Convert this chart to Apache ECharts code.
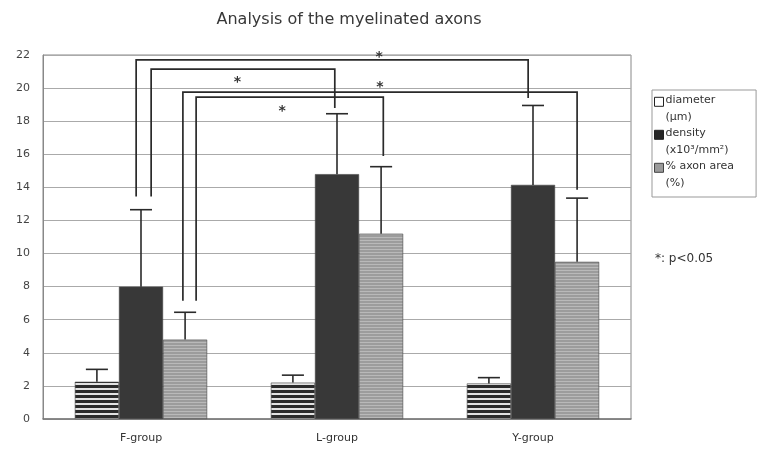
<!DOCTYPE html>
<html>
<head>
<meta charset="utf-8">
<script src="https://cdn.jsdelivr.net/npm/echarts@6/dist/echarts.min.js"></script>
<style>html,body{margin:0;padding:0;background:#fff;}#c{width:762px;height:449px;}</style>
</head>
<body>
<div id="c"></div>
<script>
// ---- data ----
const categories = ['F-group', 'L-group', 'Y-group'];
const seriesNames = ['diameter', 'density', '% axon area'];
const diameter = [2.25, 2.2, 2.15];
const density = [8.0, 14.8, 14.15];
const axonArea = [4.8, 11.2, 9.5];
const diameterSD = [0.75, 0.45, 0.35];
const densitySD = [4.65, 3.65, 4.8];
const axonAreaSD = [1.65, 4.05, 3.85];
const yTicks = [0, 2, 4, 6, 8, 10, 12, 14, 16, 18, 20, 22];
// significance brackets: [fromCategory, fromSeries, toCategory, toSeries]
const bracketFrom = [[0, 1], [0, 1], [0, 2], [0, 2]];
const bracketTo = [[2, 1], [1, 1], [2, 2], [1, 2]];
const bracketLevel = [21.7, 21.15, 19.76, 19.46];
const bracketLeftEnd = [13.45, 13.45, 7.15, 7.15];
const bracketRightEnd = [19.4, 18.8, 13.85, 15.9];
const starLevel = [22.05, 20.55, 20.2, 18.75];

// ---- styling ----
const BAR_FRAC = 0.225;
const bracketLeftShift = [-0.11, 0.23, -0.05, 0.25];
const bracketRightShift = [-0.11, -0.05, 0.0, 0.05];
const starPos = [0.62, 0.47, 0.5, 0.46];
const FONT = 'DejaVu Sans, Arial, sans-serif';

function makePattern(w, h, base, lineColor, lineRows) {
  const cv = document.createElement('canvas');
  cv.width = w; cv.height = h;
  const ctx = cv.getContext('2d');
  ctx.fillStyle = base; ctx.fillRect(0, 0, w, h);
  ctx.fillStyle = lineColor;
  lineRows.forEach(r => ctx.fillRect(0, r, w, 1));
  return { image: cv, repeat: 'repeat' };
}
const stripeDiameter = makePattern(4, 5, '#e2e2e2', '#2b2b2b', [0, 1, 2]);
const stripeArea = makePattern(4, 3, '#9c9c9c', '#b9b9b9', [0]);

const values = [diameter, density, axonArea];
const sds = [diameterSD, densitySD, axonAreaSD];
const fills = [stripeDiameter, '#383838', stripeArea];

function barX(api, cat, ser, shift) {
  const c = api.coord([cat, 0])[0];
  const bw = api.size([1, 0])[0] * BAR_FRAC;
  return c + (ser - 1) * bw + shift * bw;
}

const barSeries = seriesNames.map((name, k) => ({
  name: name,
  type: 'bar',
  data: values[k],
  barWidth: (BAR_FRAC * 100) + '%',
  barGap: '0%',
  itemStyle: { color: fills[k], borderColor: '#444', borderWidth: 0.6 },
  emphasis: { disabled: true },
  z: 2
}));

const errSeries = seriesNames.map((name, k) => ({
  type: 'custom',
  name: name + ' SD',
  data: values[k].map((v, i) => [i, v, v + sds[k][i]]),
  renderItem: function (params, api) {
    const cat = api.value(0);
    const x = barX(api, cat, k, 0);
    const y0 = api.coord([cat, api.value(1)])[1];
    const y1 = api.coord([cat, api.value(2)])[1];
    const capW = api.size([1, 0])[0] * BAR_FRAC * 0.5;
    const st = { stroke: '#2a2a2a', lineWidth: 1.6 };
    return {
      type: 'group',
      children: [
        { type: 'line', shape: { x1: x, y1: y0, x2: x, y2: y1 }, style: st },
        { type: 'line', shape: { x1: x - capW / 2, y1: y1, x2: x + capW / 2, y2: y1 }, style: st }
      ]
    };
  },
  z: 3,
  silent: true
}));

const bracketSeries = {
  type: 'custom',
  name: 'brackets',
  data: bracketFrom.map((f, i) => [f[0], bracketLevel[i], i]),
  renderItem: function (params, api) {
    const i = params.dataIndex;
    const f = bracketFrom[i], t = bracketTo[i];
    const lx = barX(api, f[0], f[1], bracketLeftShift[i]);
    const rx = barX(api, t[0], t[1], bracketRightShift[i]);
    const yl = api.coord([0, bracketLevel[i]])[1];
    const yL = api.coord([0, bracketLeftEnd[i]])[1];
    const yR = api.coord([0, bracketRightEnd[i]])[1];
    const ys = api.coord([0, starLevel[i]])[1];
    return {
      type: 'group',
      children: [
        { type: 'polyline', shape: { points: [[lx, yL], [lx, yl], [rx, yl], [rx, yR]] },
          style: { stroke: '#2a2a2a', lineWidth: 1.7, fill: null } },
        { type: 'text', x: lx + (rx - lx) * starPos[i], y: ys + 3,
          style: { text: '*', fontSize: 14, fontWeight: 'bold', fontFamily: FONT, fill: '#333',
                   align: 'center', verticalAlign: 'middle' } }
      ]
    };
  },
  z: 4,
  silent: true
};

const legendText = {
  'diameter': '{t|diameter}\n{t|(μm)}',
  'density': '{t|density}\n{t|(x10³/mm²)}',
  '% axon area': '{t|% axon area}\n{t|(%)}'
};

const option = {
  animation: false,
  backgroundColor: '#fff',
  title: {
    text: 'Analysis of the myelinated axons',
    left: 344, top: 7, textAlign: 'center',
    textStyle: { fontSize: 16, fontWeight: 'normal', color: '#383838', fontFamily: FONT }
  },
  legend: {
    orient: 'vertical', left: 652, top: 90,
    itemWidth: 9, itemHeight: 26, itemGap: 5,
    padding: [5, 22, 8, 2],
    borderColor: '#999', borderWidth: 1,
    icon: 'path://M0,0H10V10H0Z M0,26L0,26',
    selectedMode: false,
    formatter: n => legendText[n],
    textStyle: {
      fontSize: 11, color: '#333', fontFamily: FONT, padding: [0, 0, 0, -3],
      rich: { t: { fontSize: 11, lineHeight: 17, color: '#333', fontFamily: FONT } }
    },
    data: [
      { name: 'diameter', itemStyle: { color: '#fff', borderColor: '#222', borderWidth: 1 } },
      { name: 'density', itemStyle: { color: '#262626', borderColor: '#222', borderWidth: 1 } },
      { name: '% axon area', itemStyle: { color: '#9a9a9a', borderColor: '#444', borderWidth: 1 } }
    ]
  },
  graphic: [{
    type: 'text', left: 655, top: 253,
    style: { text: '*: p<0.05', fontSize: 12, fill: '#333', fontFamily: FONT }
  }],
  grid: { left: 43, right: 131, top: 55, bottom: 30, show: true, borderColor: '#888', borderWidth: 1 },
  xAxis: {
    type: 'category', data: categories,
    axisLine: { lineStyle: { color: '#777', width: 1.5 } },
    axisTick: { show: false },
    axisLabel: { fontSize: 11, color: '#333', margin: 14, fontFamily: FONT }
  },
  yAxis: {
    type: 'value', min: yTicks[0], max: yTicks[yTicks.length - 1], interval: 2,
    axisLine: { show: true, lineStyle: { color: '#888' } },
    axisTick: { show: false },
    splitLine: { lineStyle: { color: '#aaa', width: 1 } },
    axisLabel: { fontSize: 11, color: '#444', margin: 13, fontFamily: FONT }
  },
  series: [...barSeries, ...errSeries, bracketSeries]
};

const chart = echarts.init(document.getElementById('c'));
chart.setOption(option);
</script>
</body>
</html>
